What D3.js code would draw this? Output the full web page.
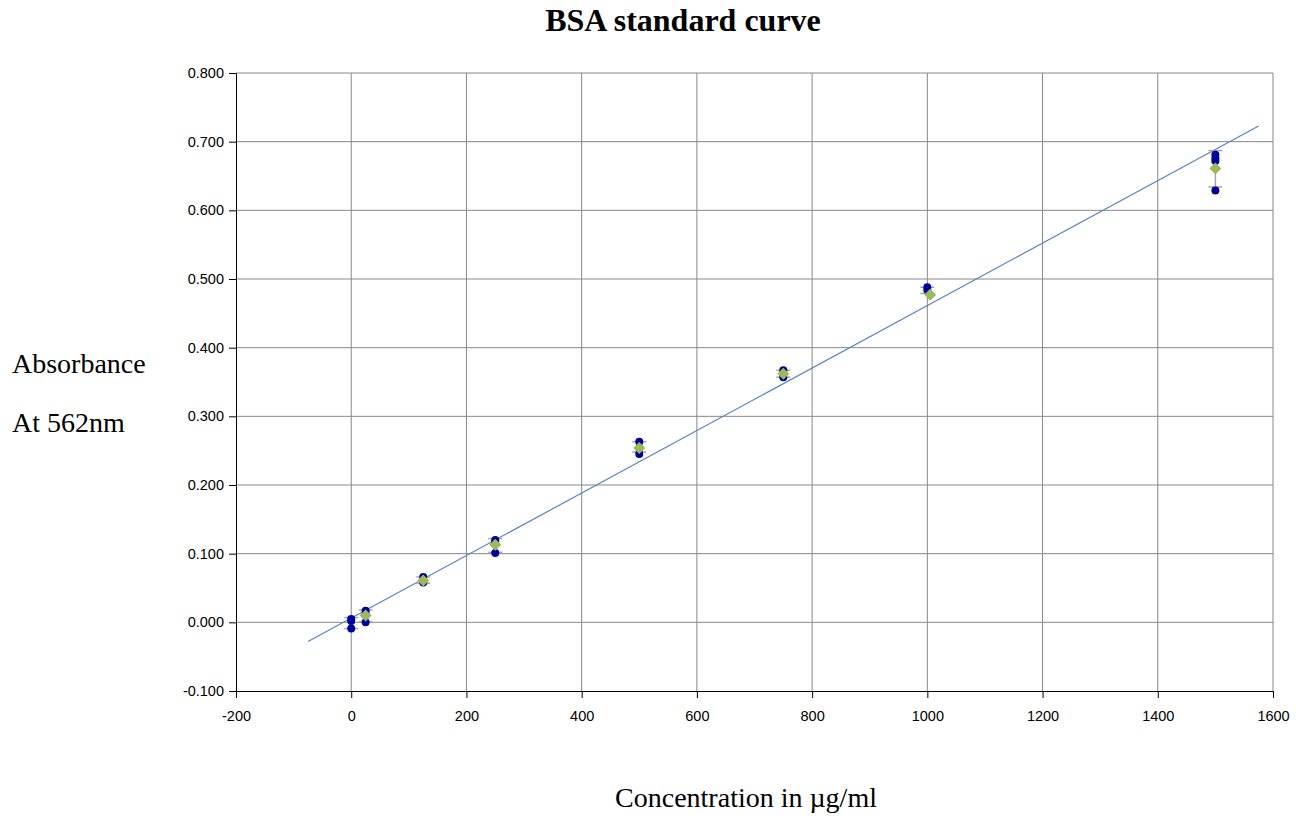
<!DOCTYPE html>
<html lang="en">
<head>
<meta charset="utf-8">
<title>BSA standard curve</title>
<script src="https://d3js.org/d3.v7.min.js" charset="utf-8"></script>
<style>
  body { margin: 0; background: #fff; }
  .tick text { font-family: "Liberation Sans", Arial, sans-serif; font-size: 14.5px; fill: #000; }
  .serif { font-family: "Liberation Serif", "Times New Roman", serif; fill: #000; }
</style>
</head>
<body>
<div id="chart"></div>
<script>

// ---- data ----
// individual absorbance readings (blue dots)
var readingConc = [0, 0, 0, 25, 25, 25, 125, 125, 125, 250, 250, 250,
                   500, 500, 500, 750, 750, 750, 1000, 1000, 1500, 1500, 1500, 1500];
var readingAbs  = [0.005, 0.002, -0.009, 0.017, 0.012, 0.000, 0.066, 0.060, 0.058,
                   0.120, 0.117, 0.101, 0.263, 0.254, 0.245, 0.367, 0.362, 0.357,
                   0.488, 0.484, 0.681, 0.676, 0.672, 0.629];

// mean values (green diamonds)
var meanConc = [25, 125, 250, 500, 750, 1005, 1500];
var meanAbs  = [0.010, 0.061, 0.113, 0.254, 0.362, 0.477, 0.661];

// error bars
var errConc = [0, 25, 125, 250, 500, 750, 1000, 1500];
var errHigh = [0.007, 0.018, 0.066, 0.122, 0.263, 0.367, 0.488, 0.687];
var errLow  = [-0.009, 0.001, 0.057, 0.102, 0.248, 0.357, 0.479, 0.634];

// linear trendline end points
var trendX = [-75, 1575];
var trendY = [-0.0278, 0.7229];

var xTicks = [-200, 0, 200, 400, 600, 800, 1000, 1200, 1400, 1600];
var yTicks = [-0.1, 0, 0.1, 0.2, 0.3, 0.4, 0.5, 0.6, 0.7, 0.8];

// ---- layout ----
var W = 1303, H = 825;
var margin = {top: 73, right: 30, bottom: 134, left: 236},
    width = W - margin.left - margin.right,
    height = H - margin.top - margin.bottom;

var svg = d3.select("#chart")
  .append("svg")
    .attr("width", W)
    .attr("height", H);

var g = svg.append("g")
    .attr("transform", "translate(" + margin.left + "," + margin.top + ")");

var x = d3.scaleLinear().domain([-200, 1600]).range([0, width]);
var y = d3.scaleLinear().domain([-0.1, 0.8]).range([height, 0]);

// plain hyphen for negatives, like the original
var plain = function(f) {
  return function(d) { return f(d).replace("\u2212", "-"); };
};

// gridlines
g.append("g")
  .selectAll("line")
  .data(xTicks.slice(1))
  .enter()
  .append("line")
    .attr("x1", function(d) { return x(d); })
    .attr("x2", function(d) { return x(d); })
    .attr("y1", 0)
    .attr("y2", height)
    .attr("stroke", "#888")
    .attr("stroke-width", 1);

g.append("g")
  .selectAll("line")
  .data(yTicks.slice(1))
  .enter()
  .append("line")
    .attr("x1", 0)
    .attr("x2", width)
    .attr("y1", function(d) { return y(d); })
    .attr("y2", function(d) { return y(d); })
    .attr("stroke", "#888")
    .attr("stroke-width", 1);

// axes
var yAxis = g.append("g")
  .call(d3.axisLeft(y).tickValues(yTicks).tickSize(7).tickPadding(5)
    .tickFormat(plain(d3.format(".3f"))));
var xAxis = g.append("g")
  .attr("transform", "translate(0," + height + ")")
  .call(d3.axisBottom(x).tickValues(xTicks).tickSize(7).tickPadding(13)
    .tickFormat(plain(d3.format("d"))));
[xAxis, yAxis].forEach(function(a) {
  a.select(".domain").attr("stroke", "#000");
  a.selectAll(".tick line").attr("stroke", "#000");
});

// trendline
g.append("line")
  .attr("x1", x(trendX[0]))
  .attr("y1", y(trendY[0]))
  .attr("x2", x(trendX[1]))
  .attr("y2", y(trendY[1]))
  .attr("stroke", "#5585c5")
  .attr("stroke-width", 1.2);

// error bars
var eb = g.append("g").attr("stroke", "#a6a6a6").attr("stroke-width", 1.5);
errConc.forEach(function(c, i) {
  eb.append("line")
    .attr("x1", x(c)).attr("x2", x(c))
    .attr("y1", y(errHigh[i])).attr("y2", y(errLow[i]));
  [errHigh[i], errLow[i]].forEach(function(v) {
    eb.append("line")
      .attr("x1", x(c) - 7).attr("x2", x(c) + 7)
      .attr("y1", y(v)).attr("y2", y(v));
  });
});

// readings
g.append("g")
  .selectAll("circle")
  .data(readingConc)
  .enter()
  .append("circle")
    .attr("cx", function(d) { return x(d); })
    .attr("cy", function(d, i) { return y(readingAbs[i]); })
    .attr("r", 4)
    .attr("fill", "#00009c");

// means
g.append("g")
  .selectAll("path")
  .data(meanConc)
  .enter()
  .append("path")
    .attr("d", "M0,-6L6,0L0,6L-6,0Z")
    .attr("transform", function(d, i) {
      return "translate(" + x(d) + "," + y(meanAbs[i]) + ")";
    })
    .attr("fill", "#9bbb59");

// titles
svg.append("text")
  .attr("class", "serif")
  .attr("x", 683)
  .attr("y", 31)
  .attr("text-anchor", "middle")
  .style("font-size", "32px")
  .style("font-weight", "bold")
  .text("BSA standard curve");

svg.append("text")
  .attr("class", "serif")
  .attr("x", 12)
  .attr("y", 373)
  .style("font-size", "28px")
  .text("Absorbance");

svg.append("text")
  .attr("class", "serif")
  .attr("x", 12)
  .attr("y", 432)
  .style("font-size", "28px")
  .text("At 562nm");

svg.append("text")
  .attr("class", "serif")
  .attr("x", 746)
  .attr("y", 807)
  .attr("text-anchor", "middle")
  .style("font-size", "28px")
  .text("Concentration in µg/ml");

</script>
</body>
</html>
